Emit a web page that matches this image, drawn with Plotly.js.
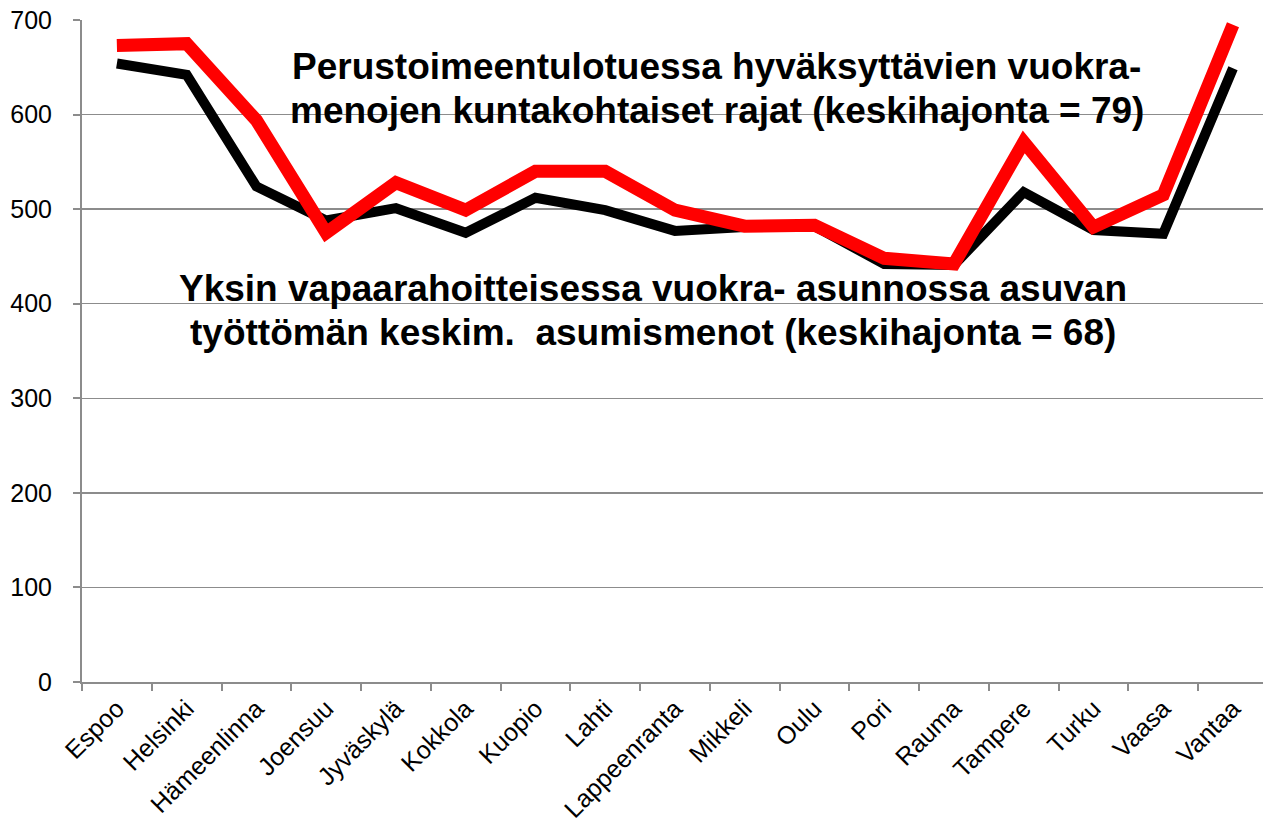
<!DOCTYPE html>
<html>
<head>
<meta charset="utf-8">
<script src="https://cdn.plot.ly/plotly-3.0.1.min.js"></script>
<style>html,body{margin:0;padding:0;background:#fff;}#chart{width:1263px;height:830px;}</style>
</head>
<body>
<div id="chart"></div>
<script>
const cities = ["Espoo","Helsinki","Hämeenlinna","Joensuu","Jyväskylä","Kokkola","Kuopio","Lahti","Lappeenranta","Mikkeli","Oulu","Pori","Rauma","Tampere","Turku","Vaasa","Vantaa"];
const rentLimits = [673, 675, 594, 475, 528, 499, 540, 540, 499, 482, 483, 448, 442, 571, 481, 515, 695];
const housingCosts = [654, 642, 524, 488, 501, 475, 512, 499, 477, 481, 482, 442, 441, 518, 478, 474, 649];
const yTicks = [0, 100, 200, 300, 400, 500, 600, 700];
const label1 = ["Perustoimeentulotuessa hyväksyttävien vuokra-", "menojen kuntakohtaiset rajat (keskihajonta = 79)"];
const label2 = ["Yksin vapaarahoitteisessa vuokra- asunnossa asuvan", "työttömän keskim.  asumismenot (keskihajonta = 68)"];

const traces = [
  {x: cities, y: housingCosts, type: "scatter", mode: "lines",
   line: {color: "#000000", width: 10}, hoverinfo: "x+y"},
  {x: cities, y: rentLimits, type: "scatter", mode: "lines",
   line: {color: "#ff0000", width: 13}, hoverinfo: "x+y"}
];

const annFont = {family: "Liberation Sans, Arial, sans-serif", size: 37, color: "#000"};
function ann(text, x, y) {
  return {text: "<b>" + text + "</b>", x: x, y: y, xref: "x", yref: "y",
          showarrow: false, xanchor: "center", yanchor: "middle", font: annFont};
}

const layout = {
  width: 1263, height: 830,
  margin: {l: 82, r: 0, t: 20, b: 148},
  paper_bgcolor: "#fff", plot_bgcolor: "#fff",
  showlegend: false,
  font: {family: "Liberation Sans, Arial, sans-serif", color: "#000"},
  xaxis: {
    type: "category", range: [-0.5, 16.43],
    tickangle: -45, tickfont: {size: 25, color: "#000"},
    showgrid: false, showline: true, linecolor: "#8c8c8c", linewidth: 2,
    ticks: "outside", tickson: "boundaries", ticklen: 7, tickcolor: "#8c8c8c", tickwidth: 2,
    zeroline: false, fixedrange: true
  },
  yaxis: {
    range: [0, 700], tickvals: yTicks, ticktext: yTicks.map(String),
    tickfont: {size: 25, color: "#000"}, ticklabelstandoff: 16,
    showgrid: true, gridcolor: "#8c8c8c", gridwidth: 1.5,
    showline: true, linecolor: "#8c8c8c", linewidth: 2,
    ticks: "outside", ticklen: 7, tickcolor: "#8c8c8c", tickwidth: 2,
    zeroline: false, fixedrange: true
  },
  annotations: [
    ann(label1[0], 8.6, 651),
    ann(label1[1], 8.6, 604),
    ann(label2[0], 7.69, 416),
    ann(label2[1], 7.69, 370)
  ]
};

Plotly.newPlot("chart", traces, layout, {displayModeBar: false, staticPlot: true});
</script>
</body>
</html>
